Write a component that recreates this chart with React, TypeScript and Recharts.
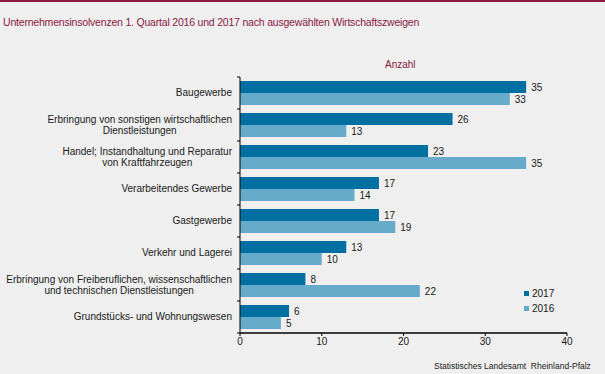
import React from "react";
import { BarChart, Bar, XAxis, YAxis, LabelList } from "recharts";

const categories = [
  "Baugewerbe",
  "Erbringung von sonstigen wirtschaftlichen\nDienstleistungen",
  "Handel; Instandhaltung und Reparatur\nvon Kraftfahrzeugen",
  "Verarbeitendes Gewerbe",
  "Gastgewerbe",
  "Verkehr und Lagerei",
  "Erbringung von Freiberuflichen, wissenschaftlichen\nund technischen Dienstleistungen",
  "Grundstücks- und Wohnungswesen",
];
const values2017 = [35, 26, 23, 17, 17, 13, 8, 6];
const values2016 = [33, 13, 35, 14, 19, 10, 22, 5];
const xTicks = [0, 10, 20, 30, 40];

const data = categories.map((name, i) => ({
  name,
  y2017: values2017[i],
  y2016: values2016[i],
}));

const FONT = "'Liberation Sans', Arial, sans-serif";
const DARK = "#0070a3";
const LIGHT = "#66abc9";
const RED = "#8b1a3f";
const BAND = 32;

let ctx: CanvasRenderingContext2D | null = null;
const measure = (s: string) => {
  if (!ctx) ctx = document.createElement("canvas").getContext("2d");
  if (!ctx) return s.length * 5;
  ctx.font = `10px ${FONT}`;
  return ctx.measureText(s).width;
};

const CatTick = (props: any) => {
  const { x, y, payload, index } = props;
  const lines: string[] = String(payload.value).split("\n");
  const right = x;
  const w = Math.max(...lines.map(measure));
  const start = y - ((lines.length - 1) * 11) / 2;
  const axisX = right + 8;
  return (
    <g>
      <line x1={axisX - 3} x2={axisX} y1={y - BAND / 2} y2={y - BAND / 2} stroke="#000" />
      {index === categories.length - 1 && (
        <line x1={axisX - 3} x2={axisX} y1={y + BAND / 2} y2={y + BAND / 2} stroke="#000" />
      )}
      {lines.map((l, i) => (
        <text
          key={i}
          x={lines.length > 1 ? right - w / 2 : right}
          y={start + i * 11}
          dy={3}
          textAnchor={lines.length > 1 ? "middle" : "end"}
          fontSize={10}
          fontFamily={FONT}
          fill="#1a1a1a"
        >
          {l}
        </text>
      ))}
    </g>
  );
};

const LegendBox = () => (
  <div style={{ position: "absolute", left: 524, top: 286, fontFamily: FONT, fontSize: 10, color: "#1a1a1a" }}>
    {[
      ["2017", DARK],
      ["2016", LIGHT],
    ].map(([t, c]) => (
      <div key={t} style={{ display: "flex", alignItems: "center", height: 15 }}>
        <span style={{ width: 5, height: 5, background: c, marginRight: 3 }} />
        {t}
      </div>
    ))}
  </div>
);

export default function App() {
  return (
    <div style={{ position: "absolute", left: 0, top: 0, width: 605, height: 374, background: "#eeefee", overflow: "hidden" }}>
      <div style={{ position: "absolute", left: 0, top: 0, width: 605, height: 2, background: RED }} />
      <div style={{ position: "absolute", left: 3, top: 16, fontFamily: FONT, fontSize: 10.5, color: RED, whiteSpace: "nowrap", letterSpacing: -0.2 }}>
        Unternehmensinsolvenzen 1. Quartal 2016 und 2017 nach ausgewählten Wirtschaftszweigen
      </div>
      <div style={{ position: "absolute", left: 385, top: 59, fontFamily: FONT, fontSize: 10, color: RED }}>Anzahl</div>
      <div style={{ position: "absolute", left: 434, top: 361, fontFamily: FONT, fontSize: 8.5, color: "#1a1a1a", whiteSpace: "pre" }}>
        Statistisches Landesamt  Rheinland-Pfalz
      </div>
      <BarChart
        width={605}
        height={374}
        data={data}
        layout="vertical"
        barSize={12}
        barGap={0}
        margin={{ top: 77, right: 38, left: 0, bottom: 21 }}
      >
        <XAxis
          type="number"
          domain={[0, 40]}
          ticks={xTicks}
          height={20}
          axisLine={{ stroke: "#000", strokeWidth: 1.5 }}
          tickLine={{ stroke: "#000" }}
          tickSize={3}
          tickMargin={2}
          tick={{ fontSize: 10, fontFamily: FONT, fill: "#1a1a1a" }}
        />
        <YAxis
          type="category"
          dataKey="name"
          width={240}
          axisLine={{ stroke: "#000" }}
          tickLine={false}
          tickSize={0}
          tickMargin={8}
          interval={0}
          tick={(p: any) => <CatTick {...p} />}
        />
        <Bar dataKey="y2017" fill={DARK} isAnimationActive={false}>
          <LabelList dataKey="y2017" position="right" offset={5} fontSize={10} fontFamily={FONT} fill="#1a1a1a" />
        </Bar>
        <Bar dataKey="y2016" fill={LIGHT} isAnimationActive={false}>
          <LabelList dataKey="y2016" position="right" offset={5} fontSize={10} fontFamily={FONT} fill="#1a1a1a" />
        </Bar>
      </BarChart>
      <LegendBox />
    </div>
  );
}
